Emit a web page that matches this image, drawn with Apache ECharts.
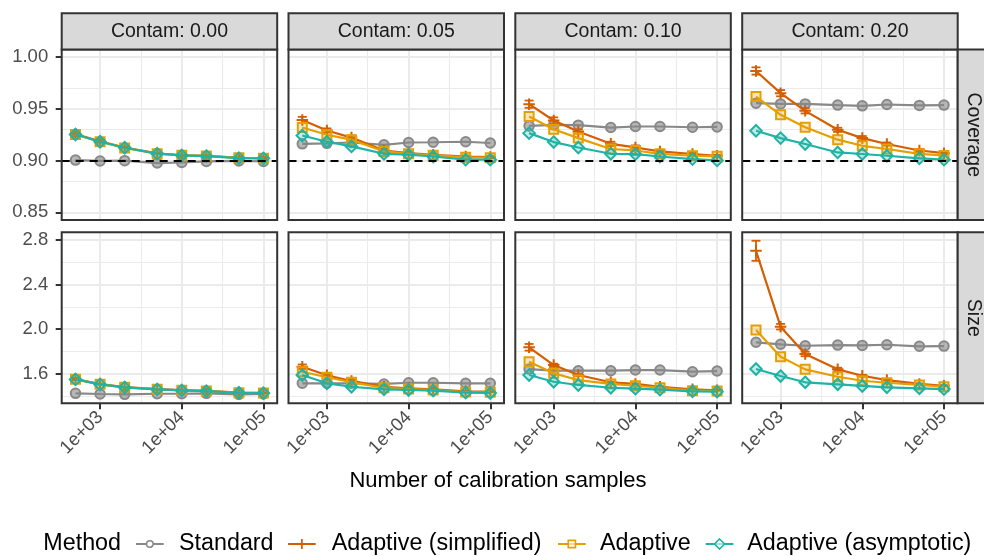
<!DOCTYPE html>
<html><head><meta charset="utf-8">
<script src="https://cdn.jsdelivr.net/npm/echarts@6/dist/echarts.min.js"></script>
<style>html,body{margin:0;padding:0;background:#fff}#c{width:984px;height:556px}</style>
</head><body><div id="c"></div>
<script>
// ---------------- DATA ----------------
const sampleSizes = [500, 1000, 2000, 5000, 10000, 20000, 50000, 100000];
const contamLabels = ['Contam: 0.00', 'Contam: 0.05', 'Contam: 0.10', 'Contam: 0.20'];
const metricLabels = ['Coverage', 'Size'];
const methods = ['Standard', 'Adaptive (simplified)', 'Adaptive', 'Adaptive (asymptotic)'];
const xTickExponents = [3, 4, 5];
const xMinorExponents = [3.5, 4.5];
const covTicks = [0.85, 0.90, 0.95, 1.00];
const covMinor = [0.875, 0.925, 0.975];
const sizeTicks = [1.6, 2.0, 2.4, 2.8];
const sizeMinor = [1.4, 1.8, 2.2, 2.6];
const nominalCoverage = 0.90;

// coverage: one row per contamination level
const covStandard = [
  [0.9003, 0.8995, 0.8998, 0.8975, 0.8980, 0.8990, 0.8995, 0.8990],
  [0.9160, 0.9165, 0.9173, 0.9150, 0.9173, 0.9175, 0.9180, 0.9168],
  [0.9333, 0.9343, 0.9340, 0.9317, 0.9327, 0.9327, 0.9320, 0.9323],
  [0.9552, 0.9545, 0.9545, 0.9533, 0.9526, 0.9539, 0.9530, 0.9533]];
const covSimplified = [
  [0.9255, 0.9185, 0.9125, 0.9068, 0.9050, 0.9045, 0.9026, 0.9023],
  [0.9390, 0.9289, 0.9220, 0.9096, 0.9070, 0.9055, 0.9038, 0.9032],
  [0.9542, 0.9385, 0.9279, 0.9160, 0.9125, 0.9087, 0.9062, 0.9045],
  [0.9862, 0.9648, 0.9478, 0.9295, 0.9215, 0.9158, 0.9096, 0.9070]];
const covAdaptive = [
  [0.9250, 0.9180, 0.9120, 0.9065, 0.9050, 0.9043, 0.9025, 0.9022],
  [0.9317, 0.9247, 0.9200, 0.9087, 0.9064, 0.9050, 0.9030, 0.9026],
  [0.9423, 0.9300, 0.9215, 0.9110, 0.9096, 0.9064, 0.9045, 0.9040],
  [0.9615, 0.9440, 0.9320, 0.9200, 0.9141, 0.9110, 0.9064, 0.9048]];
const covAsymptotic = [
  [0.9250, 0.9180, 0.9122, 0.9065, 0.9048, 0.9042, 0.9022, 0.9020],
  [0.9240, 0.9180, 0.9135, 0.9064, 0.9055, 0.9038, 0.9007, 0.9007],
  [0.9263, 0.9177, 0.9125, 0.9064, 0.9060, 0.9038, 0.9013, 0.9000],
  [0.9286, 0.9215, 0.9158, 0.9077, 0.9062, 0.9045, 0.9020, 0.9007]];
const errCovSimplified = [
  [0.0020, 0.0015, 0.0010, 0.0010, 0.0010, 0.0010, 0.0010, 0.0010],
  [0.0030, 0.0020, 0.0020, 0.0015, 0.0015, 0.0010, 0.0010, 0.0010],
  [0.0035, 0.0030, 0.0020, 0.0020, 0.0020, 0.0015, 0.0015, 0.0010],
  [0.0035, 0.0030, 0.0025, 0.0020, 0.0020, 0.0015, 0.0015, 0.0010]];

// size
const sizeStandard = [
  [1.424, 1.418, 1.415, 1.420, 1.420, 1.424, 1.415, 1.418],
  [1.514, 1.514, 1.514, 1.508, 1.519, 1.519, 1.514, 1.514],
  [1.642, 1.627, 1.627, 1.627, 1.633, 1.633, 1.618, 1.624],
  [1.882, 1.864, 1.851, 1.857, 1.854, 1.860, 1.846, 1.848]];
const sizeSimplified = [
  [1.552, 1.507, 1.479, 1.461, 1.452, 1.446, 1.431, 1.428],
  [1.663, 1.586, 1.535, 1.483, 1.469, 1.460, 1.442, 1.439],
  [1.837, 1.678, 1.588, 1.523, 1.508, 1.483, 1.460, 1.451],
  [2.703, 2.022, 1.777, 1.639, 1.582, 1.543, 1.508, 1.492]];
const sizeAdaptive = [
  [1.550, 1.505, 1.478, 1.460, 1.451, 1.445, 1.430, 1.427],
  [1.618, 1.568, 1.523, 1.474, 1.462, 1.454, 1.436, 1.433],
  [1.708, 1.604, 1.543, 1.508, 1.492, 1.474, 1.448, 1.445],
  [1.992, 1.752, 1.639, 1.573, 1.537, 1.519, 1.499, 1.483]];
const sizeAsymptotic = [
  [1.549, 1.504, 1.477, 1.459, 1.450, 1.444, 1.429, 1.426],
  [1.588, 1.514, 1.483, 1.460, 1.454, 1.448, 1.430, 1.427],
  [1.588, 1.528, 1.499, 1.474, 1.466, 1.457, 1.442, 1.439],
  [1.642, 1.579, 1.523, 1.505, 1.490, 1.478, 1.469, 1.462]];
const errSizeSimplified = [
  [0.010, 0.005, 0.004, 0.003, 0.003, 0.002, 0.002, 0.002],
  [0.020, 0.010, 0.008, 0.005, 0.004, 0.003, 0.002, 0.002],
  [0.030, 0.012, 0.008, 0.005, 0.004, 0.003, 0.002, 0.002],
  [0.090, 0.025, 0.020, 0.015, 0.008, 0.005, 0.004, 0.003]];

// ---------------- LAYOUT / STYLE ----------------
const FONT = '"Liberation Sans", Arial, Helvetica, sans-serif';
const colLeft = [61.7, 288.5, 515.3, 742.2];
const colW = 215.5;
const rowTop = [49.5, 232.3];
const rowH = [170.5, 171];
const stripTop = 13.3, stripH = 36.2;
const rStripX = 957.7, rStripW = 36;
const xRange = [2.53, 5.168];
const yRanges = [[0.8426, 1.0069], [1.3345, 2.869]];
const colors = ['#888888', '#D55E00', '#E69F00', '#1FB3A5'];
const fills = ['rgba(136,136,136,0.6)', 'rgba(0,0,0,0)', 'rgba(230,159,0,0.25)', 'rgba(31,179,165,0.25)'];
const symbols = ['circle', 'path://M5,0L5,10M0,5L10,5', 'rect', 'diamond'];
const symbolSizes = [9.5, 11.5, 9, 11.5];
const metricData = [
  [covStandard, covSimplified, covAdaptive, covAsymptotic],
  [sizeStandard, sizeSimplified, sizeAdaptive, sizeAsymptotic]];
const metricErr = [
  [null, errCovSimplified, null, null],
  [null, errSizeSimplified, null, null]];
const yTicks = [covTicks, sizeTicks];
const yMinor = [covMinor, sizeMinor];
const yFmt = [v => v.toFixed(2), v => v.toFixed(1)];
const xVals = sampleSizes.map(n => Math.log10(n));

const grids = [], xAxes = [], yAxes = [], series = [], graphics = [];

for (let r = 0; r < 2; r++) {
  for (let c = 0; c < 4; c++) {
    const idx = r * 4 + c;
    grids.push({ left: colLeft[c], top: rowTop[r], width: colW, height: rowH[r], containLabel: false, show: false });
    xAxes.push({
      type: 'value', gridIndex: idx, min: xRange[0], max: xRange[1],
      axisLine: { show: false }, splitLine: { show: false },
      axisTick: { show: r === 1, customValues: xTickExponents, length: 6, lineStyle: { color: '#333333', width: 2 } },
      axisLabel: {
        show: r === 1, customValues: xTickExponents, rotate: 45, margin: 11,
        formatter: v => '1e+' + String(Math.round(v)).padStart(2, '0'),
        color: '#4D4D4D', fontSize: 18.5, fontFamily: FONT
      }
    });
    yAxes.push({
      type: 'value', gridIndex: idx, min: yRanges[r][0], max: yRanges[r][1],
      axisLine: { show: false }, splitLine: { show: false },
      axisTick: { show: c === 0, customValues: yTicks[r], length: 6, lineStyle: { color: '#333333', width: 2 } },
      axisLabel: {
        show: c === 0, customValues: yTicks[r], margin: 13.5,
        formatter: yFmt[r], color: '#4D4D4D', fontSize: 18.5, fontFamily: FONT
      }
    });
    // grid lines
    const gl = [];
    xTickExponents.forEach(v => gl.push({ xAxis: v, lineStyle: { color: '#EBEBEB', width: 2, type: 'solid' } }));
    xMinorExponents.forEach(v => gl.push({ xAxis: v, lineStyle: { color: '#EBEBEB', width: 1, type: 'solid' } }));
    yTicks[r].forEach(v => gl.push({ yAxis: v, lineStyle: { color: '#EBEBEB', width: 2, type: 'solid' } }));
    yMinor[r].forEach(v => gl.push({ yAxis: v, lineStyle: { color: '#EBEBEB', width: 1, type: 'solid' } }));
    series.push({
      type: 'line', xAxisIndex: idx, yAxisIndex: idx, data: [], symbol: 'none', silent: true, z: 1,
      markLine: { z: 1, silent: true, symbol: ['none', 'none'], label: { show: false }, emphasis: { disabled: true }, animation: false, data: gl }
    });
    // method lines
    for (let m = 0; m < 4; m++) {
      const vals = metricData[r][m][c];
      const err = metricErr[r][m];
      if (err) {
        const col = colors[m];
        series.push({
          type: 'custom', xAxisIndex: idx, yAxisIndex: idx, z: 3 + m, silent: true,
          data: vals.map((v, i) => [xVals[i], v, err[c][i]]),
          encode: { x: 0, y: 1 },
          renderItem: function (params, api) {
            const x = api.value(0), y = api.value(1), e = api.value(2);
            const t = api.coord([x, y + e]), b = api.coord([x, y - e]);
            const hw = 4.5;
            const st = { stroke: col, lineWidth: 1.8 };
            return { type: 'group', children: [
              { type: 'line', shape: { x1: t[0], y1: t[1], x2: b[0], y2: b[1] }, style: st },
              { type: 'line', shape: { x1: t[0] - hw, y1: t[1], x2: t[0] + hw, y2: t[1] }, style: st },
              { type: 'line', shape: { x1: b[0] - hw, y1: b[1], x2: b[0] + hw, y2: b[1] }, style: st }
            ] };
          }
        });
      }
      series.push({
        type: 'line', name: methods[m], xAxisIndex: idx, yAxisIndex: idx, z: 3 + m,
        data: vals.map((v, i) => [xVals[i], v]),
        symbol: symbols[m], symbolSize: symbolSizes[m], showAllSymbol: true,
        lineStyle: { color: colors[m], width: 2.2 },
        itemStyle: { color: fills[m], borderColor: colors[m], borderWidth: 2 },
        emphasis: { disabled: true }, silent: true, animation: false
      });
    }
    if (r === 0) {
      series.push({
        type: 'line', xAxisIndex: idx, yAxisIndex: idx, data: [], symbol: 'none', silent: true, z: 20,
        markLine: { z: 20, silent: true, symbol: ['none', 'none'], label: { show: false }, emphasis: { disabled: true }, animation: false,
          data: [{ yAxis: nominalCoverage, lineStyle: { color: '#000000', width: 2, type: [8, 6] } }] }
      });
    }
    // panel border
    graphics.push({ type: 'rect', z: 100, shape: { x: colLeft[c], y: rowTop[r], width: colW, height: rowH[r] },
      style: { fill: 'none', stroke: '#333333', lineWidth: 2 } });
  }
}
// top strips
for (let c = 0; c < 4; c++) {
  graphics.push({ type: 'rect', z: 100, shape: { x: colLeft[c], y: stripTop, width: colW, height: stripH },
    style: { fill: '#D9D9D9', stroke: '#333333', lineWidth: 2 } });
  graphics.push({ type: 'text', z: 101, x: colLeft[c] + colW / 2, y: stripTop + stripH / 2,
    style: { text: contamLabels[c], fontSize: 19.5, fontFamily: FONT, fill: '#1A1A1A', align: 'center', verticalAlign: 'middle' } });
}
// right strips
for (let r = 0; r < 2; r++) {
  graphics.push({ type: 'rect', z: 100, shape: { x: rStripX, y: rowTop[r], width: rStripW, height: rowH[r] },
    style: { fill: '#D9D9D9', stroke: '#333333', lineWidth: 2 } });
  graphics.push({ type: 'text', z: 101, x: rStripX + 15.5, y: rowTop[r] + rowH[r] / 2, rotation: -Math.PI / 2,
    style: { text: metricLabels[r], fontSize: 19.5, fontFamily: FONT, fill: '#1A1A1A', align: 'center', verticalAlign: 'middle' } });
}
// x axis title
graphics.push({ type: 'text', z: 101, x: 498, y: 481,
  style: { text: 'Number of calibration samples', fontSize: 22, fontFamily: FONT, fill: '#000000', align: 'center', verticalAlign: 'middle' } });

// legend
const legY = 544;
graphics.push({ type: 'text', z: 101, x: 43.3, y: legY,
  style: { text: 'Method', fontSize: 23.3, fontFamily: FONT, fill: '#000000', align: 'left', verticalAlign: 'middle' } });
const legKeys = [136, 288, 558, 705.7];
const legTexts = [179, 331.7, 600, 747.3];
for (let m = 0; m < 4; m++) {
  const x0 = legKeys[m], x1 = x0 + 27.7, cx = (x0 + x1) / 2, col = colors[m];
  graphics.push({ type: 'line', z: 101, shape: { x1: x0, y1: legY, x2: x1, y2: legY }, style: { stroke: col, lineWidth: 2 } });
  if (m === 0) graphics.push({ type: 'circle', z: 102, shape: { cx: cx, cy: legY, r: 3.3 }, style: { fill: '#ffffff', stroke: col, lineWidth: 1.6 } });
  if (m === 1) graphics.push({ type: 'line', z: 102, shape: { x1: cx, y1: legY - 5, x2: cx, y2: legY + 5 }, style: { stroke: col, lineWidth: 1.8 } });
  if (m === 2) graphics.push({ type: 'rect', z: 102, shape: { x: cx - 3.6, y: legY - 3.6, width: 7.2, height: 7.2 }, style: { fill: 'rgba(255,255,255,0.6)', stroke: col, lineWidth: 1.6 } });
  if (m === 3) graphics.push({ type: 'polygon', z: 102, shape: { points: [[cx, legY - 5], [cx + 5, legY], [cx, legY + 5], [cx - 5, legY]] }, style: { fill: 'rgba(255,255,255,0.6)', stroke: col, lineWidth: 1.6 } });
  graphics.push({ type: 'text', z: 101, x: legTexts[m], y: legY,
    style: { text: methods[m], fontSize: 23.3, fontFamily: FONT, fill: '#000000', align: 'left', verticalAlign: 'middle' } });
}

const chart = echarts.init(document.getElementById('c'), null, { renderer: 'canvas' });
chart.setOption({
  backgroundColor: '#ffffff',
  animation: false,
  grid: grids, xAxis: xAxes, yAxis: yAxes, series: series,
  graphic: { elements: graphics }
});
</script></body></html>
